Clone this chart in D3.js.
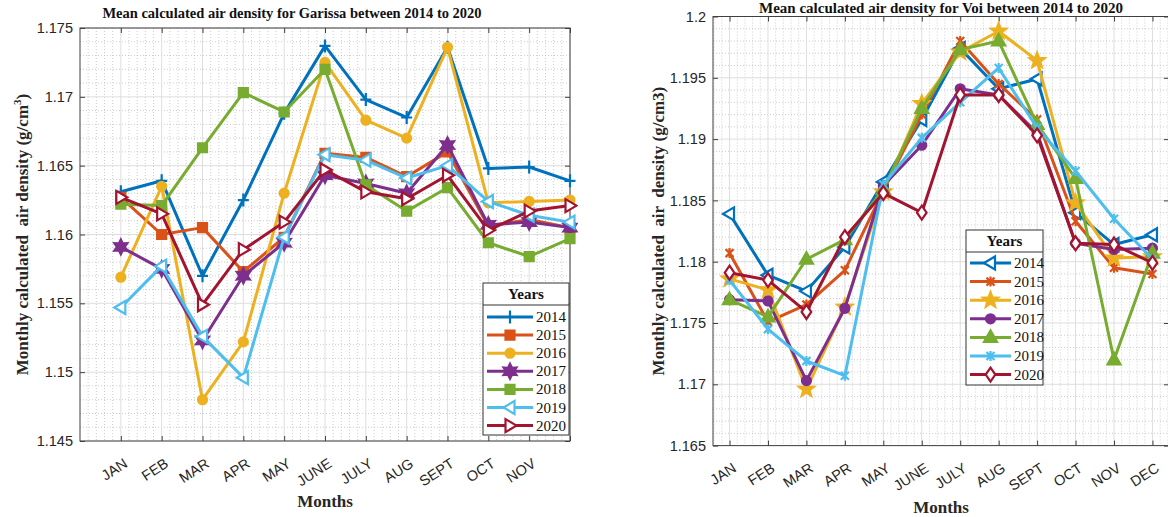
<!DOCTYPE html>
<html><head><meta charset="utf-8">
<script src="https://cdn.jsdelivr.net/npm/d3@7"></script>
<style>body{margin:0;background:#fff}</style>
</head><body><svg id="c" width="1168" height="517"></svg>
<script>
// ---------- DATA ----------
const months = ['JAN','FEB','MAR','APR','MAY','JUNE','JULY','AUG','SEPT','OCT','NOV','DEC'];
const years = ['2014','2015','2016','2017','2018','2019','2020'];

const garissa2014 = [1.1631,1.1639,1.1570,1.1625,1.1688,1.1737,1.1698,1.1685,1.1736,1.1648,1.1649,1.1639];
const garissa2015 = [1.1627,1.1600,1.1605,1.1573,1.1598,1.1659,1.1656,1.1642,1.1660,1.1606,1.1611,1.1605];
const garissa2016 = [1.1569,1.1635,1.1480,1.1522,1.1630,1.1725,1.1683,1.1670,1.1736,1.1623,1.1624,1.1625];
const garissa2017 = [1.1591,1.1575,1.1523,1.1570,1.1594,1.1643,1.1637,1.1630,1.1665,1.1607,1.1609,1.1605];
const garissa2018 = [1.1622,1.1621,1.1663,1.1703,1.1689,1.1720,1.1636,1.1617,1.1634,1.1594,1.1584,1.1597];
const garissa2019 = [1.1547,1.1577,1.1526,1.1496,1.1598,1.1658,1.1654,1.1641,1.1650,1.1624,1.1614,1.1609];
const garissa2020 = [1.1627,1.1615,1.1549,1.1589,1.1609,1.1647,1.1631,1.1626,1.1643,1.1603,1.1617,1.1621];

const voi2014 = [1.1839,1.1789,1.1776,1.1812,1.1865,1.1916,1.1974,1.1941,1.1949,1.1840,1.1814,1.1822];
const voi2015 = [1.1807,1.1751,1.1765,1.1793,1.1858,1.1920,1.1980,1.1945,1.1916,1.1833,1.1795,1.1790];
const voi2016 = [1.1786,1.1777,1.1696,1.1763,1.1857,1.1929,1.1971,1.1988,1.1964,1.1848,1.1803,1.1804];
const voi2017 = [1.1769,1.1768,1.1703,1.1762,1.1862,1.1895,1.1941,1.1936,1.1905,1.1815,1.1810,1.1811];
const voi2018 = [1.1769,1.1755,1.1802,1.1818,1.1859,1.1925,1.1973,1.1980,1.1912,1.1868,1.1720,1.1807];
const voi2019 = [1.1785,1.1745,1.1719,1.1707,1.1863,1.1901,1.1930,1.1958,1.1909,1.1874,1.1835,1.1802];
const voi2020 = [1.1791,1.1785,1.1759,1.1820,1.1856,1.1840,1.1936,1.1936,1.1903,1.1815,1.1814,1.1799];

const garissaTicks = [1.145,1.15,1.155,1.16,1.165,1.17,1.175];
const voiTicks = [1.165,1.17,1.175,1.18,1.185,1.19,1.195,1.2];
const colors = ['#0072BD','#D95319','#EDB120','#7E2F8E','#77AC30','#4DBEEE','#A2142F'];
const garissaMarkers = ['plus','square','circle','hexagram','square','triLeft','triRight'];
const voiMarkers = ['triLeft','asterisk','pentagram','circle','triUp','asterisk','diamond'];

// ---------- HELPERS ----------
const svg = d3.select('#c');
const SANS = '"Liberation Sans", Arial, sans-serif';
const SERIF = '"Liberation Serif", "Times New Roman", serif';

function starPts(n, R, r, rot) {
  const pts = [];
  for (let i = 0; i < 2*n; i++) {
    const a = rot + i*Math.PI/n;
    const rr = i%2===0 ? R : r;
    pts.push([rr*Math.cos(a), rr*Math.sin(a)]);
  }
  return 'M' + pts.map(p=>p[0].toFixed(2)+','+p[1].toFixed(2)).join('L') + 'Z';
}
function marker(type) {
  switch(type) {
    case 'plus': return {d:'M-5.5,0H5.5M0,-6.5V6.5', fill:'none'};
    case 'square': return {d:'M-4.5,-4.5H4.5V4.5H-4.5Z', fill:true};
    case 'circle': return {d:d3.symbol(d3.symbolCircle, 64)(), fill:true};
    case 'hexagram': return {d:starPts(6,7.5,4,-Math.PI/2), fill:true};
    case 'pentagram': return {d:starPts(5,8,3.4,-Math.PI/2), fill:true};
    case 'triLeft': return {d:'M-6.5,0L4.5,-6.5L4.5,6.5Z', fill:false};
    case 'triRight': return {d:'M6.5,0L-4.5,-6.5L-4.5,6.5Z', fill:false};
    case 'triUp': return {d:'M0,-7L6.5,4.5L-6.5,4.5Z', fill:true};
    case 'diamond': return {d:'M0,-7L4.8,0L0,7L-4.8,0Z', fill:false};
    case 'asterisk': return {d:'M-4,-4L4,4M-4,4L4,-4M0,-5V5', fill:'none'};
  }
}
function drawMarker(g, type, color, x, y) {
  const m = marker(type);
  const p = g.append('path').attr('d', m.d).attr('transform', `translate(${x},${y})`)
    .attr('stroke', color).attr('stroke-width', 2.2).attr('stroke-linejoin','miter');
  if (m.fill === true) p.attr('fill', color);
  else if (m.fill === false) p.attr('fill', '#fff');
  else p.attr('fill', 'none');
}

function drawChart(cfg) {
  const g = svg.append('g');
  const x = d3.scaleLinear().domain(cfg.xDomain).range([cfg.left, cfg.right]);
  const y = d3.scaleLinear().domain(cfg.yDomain).range([cfg.bottom, cfg.top]);

  // minor grid
  const yMinor = d3.range(Math.round(cfg.yDomain[0]*1000), Math.round(cfg.yDomain[1]*1000)+1)
      .map(v=>v/1000).filter(v => Math.round(v*1000)%5 !== 0);
  g.append('g').selectAll('line').data(yMinor).join('line')
    .attr('x1', cfg.left).attr('x2', cfg.right).attr('y1', d=>y(d)).attr('y2', d=>y(d))
    .attr('stroke', '#b8b8b8').attr('stroke-width', 0.7).attr('stroke-dasharray', '1,2');
  const xMinor = d3.range(Math.ceil(cfg.xDomain[0]*5), Math.floor(cfg.xDomain[1]*5)+1)
      .map(v=>v/5).filter(v => Math.abs(v - Math.round(v)) > 1e-6);
  g.append('g').selectAll('line').data(xMinor).join('line')
    .attr('y1', cfg.top).attr('y2', cfg.bottom).attr('x1', d=>x(d)).attr('x2', d=>x(d))
    .attr('stroke', '#b8b8b8').attr('stroke-width', 0.7).attr('stroke-dasharray', '1,2');
  // major grid
  g.append('g').selectAll('line').data(cfg.yTicks).join('line')
    .attr('x1', cfg.left).attr('x2', cfg.right).attr('y1', d=>y(d)).attr('y2', d=>y(d))
    .attr('stroke', '#dadada').attr('stroke-width', 0.9);
  const xMajor = d3.range(1, 13);
  g.append('g').selectAll('line').data(xMajor).join('line')
    .attr('y1', cfg.top).attr('y2', cfg.bottom).attr('x1', d=>x(d)).attr('x2', d=>x(d))
    .attr('stroke', '#dadada').attr('stroke-width', 0.9);

  // axes
  const yAxis = d3.axisLeft(y).tickValues(cfg.yTicks).tickSize(-5).tickPadding(7)
      .tickFormat(d => String(+d.toFixed(3)));
  const ya = g.append('g').attr('transform', `translate(${cfg.left},0)`).call(yAxis);
  ya.select('.domain').remove();
  ya.selectAll('line').attr('stroke', '#404040');
  ya.selectAll('text').attr('font-family', SANS).attr('font-size', 14.5).attr('fill', '#262626');
  const yAxisR = d3.axisRight(y).tickValues(cfg.yTicks).tickSize(-5).tickFormat('');
  const yr = g.append('g').attr('transform', `translate(${cfg.right},0)`).call(yAxisR);
  yr.select('.domain').remove(); yr.selectAll('line').attr('stroke', '#404040');

  const xAxis = d3.axisBottom(x).tickValues(xMajor).tickSize(-5).tickPadding(6)
      .tickFormat(d => d <= cfg.nLabels ? months[d-1] : '');
  const xa = g.append('g').attr('transform', `translate(0,${cfg.bottom})`).call(xAxis);
  xa.select('.domain').remove();
  xa.selectAll('line').attr('stroke', '#404040');
  xa.selectAll('text').attr('font-family', SANS).attr('font-size', 14.5).attr('fill', '#262626')
    .attr('text-anchor', 'end').attr('dy', 0)
    .attr('transform', 'translate(4,20) rotate(-33)');
  const xAxisT = d3.axisTop(x).tickValues(xMajor).tickSize(-5).tickFormat('');
  const xt = g.append('g').attr('transform', `translate(0,${cfg.top})`).call(xAxisT);
  xt.select('.domain').remove(); xt.selectAll('line').attr('stroke', '#404040');

  // box
  g.append('rect').attr('x', cfg.left).attr('y', cfg.top)
    .attr('width', cfg.right - cfg.left).attr('height', cfg.bottom - cfg.top)
    .attr('fill', 'none').attr('stroke', '#404040').attr('stroke-width', 1);

  // series
  const clipId = 'clip' + cfg.id;
  svg.append('clipPath').attr('id', clipId).append('rect')
    .attr('x', cfg.left - 8).attr('y', cfg.top - 8)
    .attr('width', cfg.right - cfg.left + 16).attr('height', cfg.bottom - cfg.top + 16);
  const sg = g.append('g').attr('clip-path', `url(#${clipId})`);
  const line = d3.line().x((d,i)=>x(i+1)).y(d=>y(d));
  cfg.series.forEach((s, k) => {
    sg.append('path').datum(s.values).attr('d', line).attr('fill', 'none')
      .attr('stroke', s.color).attr('stroke-width', 3).attr('stroke-linejoin', 'round');
    s.values.forEach((v, i) => drawMarker(sg, s.marker, s.color, x(i+1), y(v)));
  });

  // title
  g.append('text').attr('x', cfg.titleX).attr('y', cfg.titleY)
    .attr('text-anchor', 'middle').attr('font-family', SERIF).attr('font-weight', 'bold')
    .attr('font-size', cfg.titleSize).attr('fill', '#111').text(cfg.title);
  // x label
  g.append('text').attr('x', (cfg.left + cfg.right)/2).attr('y', cfg.xLabelY)
    .attr('text-anchor', 'middle').attr('font-family', SERIF).attr('font-weight', 'bold')
    .attr('font-size', 17).attr('fill', '#262626').text('Months');
  // y label
  const yl = g.append('text')
    .attr('transform', `translate(${cfg.yLabelX},${(cfg.top + cfg.bottom)/2}) rotate(-90)`)
    .attr('text-anchor', 'middle').attr('font-family', SERIF).attr('font-weight', 'bold')
    .attr('font-size', 17).attr('fill', '#262626').attr('xml:space', 'preserve');
  yl.append('tspan').text(cfg.yLabel);
  if (cfg.yLabelSup) {
    yl.append('tspan').attr('font-size', 11).attr('dy', -7).text(cfg.yLabelSup);
    yl.append('tspan').attr('dy', 7).text(')');
  }

  // legend
  const L = cfg.legend;
  const lg = g.append('g');
  lg.append('rect').attr('x', L.x).attr('y', L.y).attr('width', L.w).attr('height', L.h)
    .attr('fill', '#fff').attr('stroke', '#333').attr('stroke-width', 1);
  lg.append('line').attr('x1', L.x).attr('x2', L.x + L.w).attr('y1', L.y + L.div).attr('y2', L.y + L.div)
    .attr('stroke', '#333').attr('stroke-width', 1);
  lg.append('text').attr('x', L.x + L.w/2).attr('y', L.y + L.div - 6).attr('text-anchor', 'middle')
    .attr('font-family', SERIF).attr('font-weight', 'bold').attr('font-size', 15).attr('fill', '#111').text('Years');
  cfg.series.forEach((s, k) => {
    const yy = L.y + L.first + k*L.step;
    lg.append('line').attr('x1', L.x + L.l1).attr('x2', L.x + L.l2).attr('y1', yy).attr('y2', yy)
      .attr('stroke', s.color).attr('stroke-width', 3);
    drawMarker(lg, s.marker, s.color, L.x + (L.l1 + L.l2)/2, yy);
    lg.append('text').attr('x', L.x + L.l2 + 3).attr('y', yy + 5)
      .attr('font-family', SERIF).attr('font-size', 15).attr('fill', '#111').text(s.name);
  });
}

const garissaSeries = [garissa2014, garissa2015, garissa2016, garissa2017, garissa2018, garissa2019, garissa2020]
  .map((v, i) => ({name: years[i], values: v, color: colors[i], marker: garissaMarkers[i]}));
const voiSeries = [voi2014, voi2015, voi2016, voi2017, voi2018, voi2019, voi2020]
  .map((v, i) => ({name: years[i], values: v, color: colors[i], marker: voiMarkers[i]}));

drawChart({
  id: 'g', left: 80, right: 570, top: 28, bottom: 441,
  xDomain: [0, 12], yDomain: [1.145, 1.175], yTicks: garissaTicks, nLabels: 11,
  series: garissaSeries,
  title: 'Mean calculated air density for Garissa between 2014 to 2020', titleX: 292, titleY: 18, titleSize: 14.5,
  xLabelY: 507, yLabelX: 28,
  yLabel: 'Monthly calculated  air density (g/cm', yLabelSup: '3',
  legend: {x: 483, y: 283, w: 86, h: 152, div: 22, first: 34, step: 18.1, l1: 4, l2: 50}
});
drawChart({
  id: 'v', left: 713, right: 1169, top: 16.5, bottom: 445.6,
  xDomain: [0.57, 12.43], yDomain: [1.165, 1.2], yTicks: voiTicks, nLabels: 12,
  series: voiSeries,
  title: 'Mean calculated air density for Voi between 2014 to 2020', titleX: 941, titleY: 13, titleSize: 15,
  xLabelY: 513, yLabelX: 664,
  yLabel: 'Monthly calculated  air  density (g/cm3)', yLabelSup: null,
  legend: {x: 966, y: 230, w: 77, h: 155, div: 22, first: 33, step: 18.6, l1: 4, l2: 45}
});
</script></body></html>
